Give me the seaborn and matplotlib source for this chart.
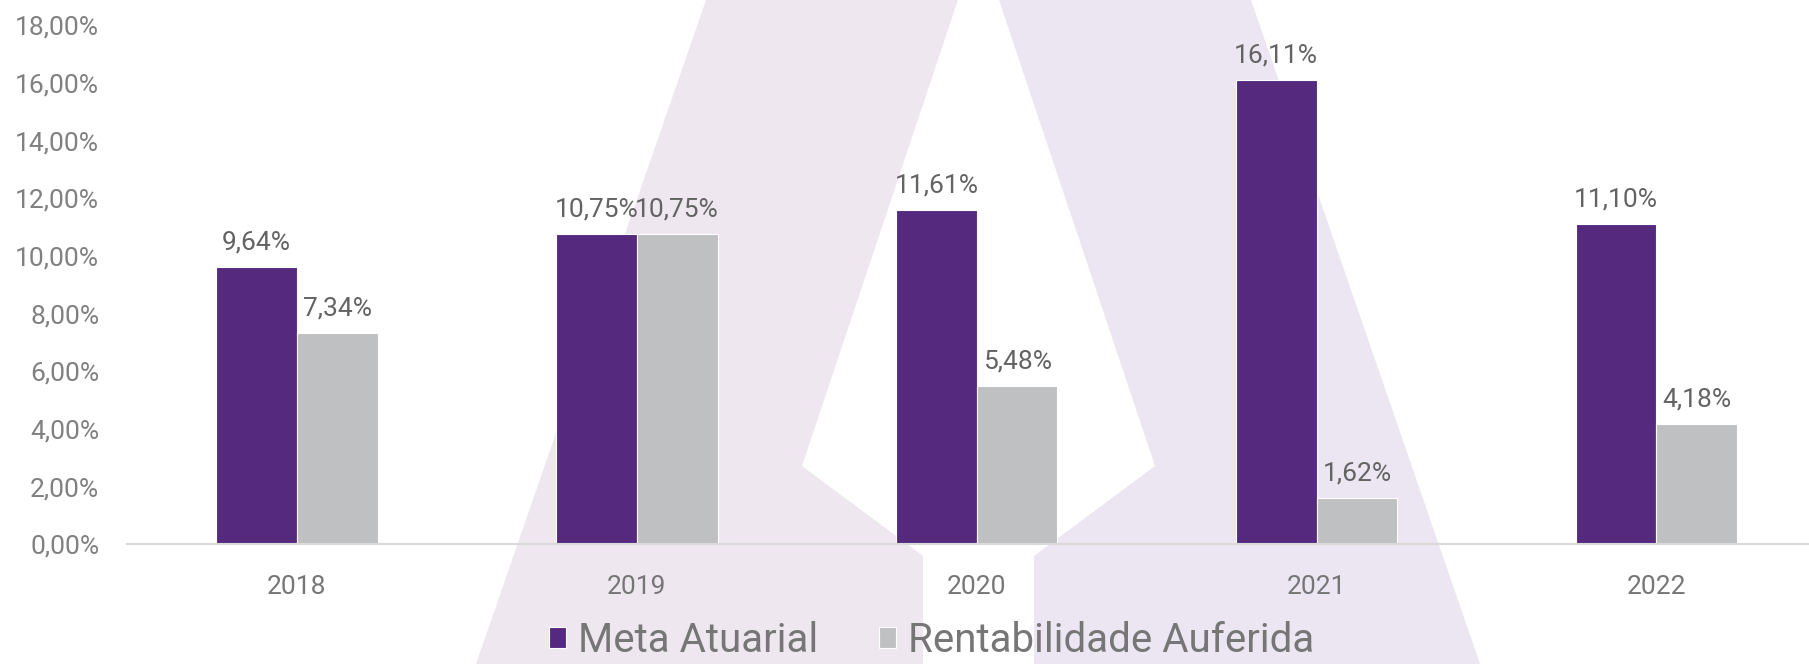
import matplotlib
matplotlib.use("Agg")
import matplotlib.pyplot as plt
import seaborn as sns
import pandas as pd
from matplotlib.patches import Polygon
from matplotlib.ticker import FuncFormatter

years = ["2018", "2019", "2020", "2021", "2022"]
meta_atuarial = [9.64, 10.75, 11.61, 16.11, 11.10]
rentabilidade = [7.34, 10.75, 5.48, 1.62, 4.18]
series_names = ["Meta Atuarial", "Rentabilidade Auferida"]
yticks = [0, 2, 4, 6, 8, 10, 12, 14, 16, 18]

df = pd.DataFrame({
    "Ano": years * 2,
    "Valor": meta_atuarial + rentabilidade,
    "Série": [series_names[0]] * len(years) + [series_names[1]] * len(years),
})

sns.set_theme(style="white")
plt.rcParams["font.family"] = ["Roboto", "DejaVu Sans"]
plt.rcParams["font.weight"] = "normal"

W, H = 1809, 664
fig = plt.figure(figsize=(W / 100, H / 100), dpi=100)
fig.patch.set_facecolor("white")

# background watermark (logo shape), in figure pixel coordinates
def fp(pts):
    return [(x / W, 1 - y / H) for x, y in pts]

left_piece = fp([(706, 0), (958, 0), (802, 466), (923, 556), (923, 664), (476, 664)])
right_piece = fp([(999, 0), (1251, 0), (1480, 664), (1034, 664), (1034, 556), (1155, 466)])
fig.add_artist(Polygon(left_piece, closed=True, transform=fig.transFigure,
                       facecolor="#efe7f0", edgecolor="none", zorder=0))
fig.add_artist(Polygon(right_piece, closed=True, transform=fig.transFigure,
                       facecolor="#ebe6f2", edgecolor="none", zorder=0))

ax = fig.add_axes([127 / W, 0.18, 0.930, 0.7817])
ax.set_facecolor("none")
ax.set_zorder(1)

sns.barplot(data=df, x="Ano", y="Valor", hue="Série", order=years,
            hue_order=series_names, palette=["#552a7e", "#bfc0c2"],
            width=0.475, saturation=1, ax=ax, legend=True,
            edgecolor="white", linewidth=0.8)

ax.set_xlim(-0.5, 4.45)
ax.set_ylim(0, 18)
ax.set_yticks(yticks)
ax.yaxis.set_major_formatter(FuncFormatter(lambda v, p: f"{v:.2f}".replace(".", ",") + "%"))
ax.set_xlabel("")
ax.set_ylabel("")
for s in ["top", "right", "left"]:
    ax.spines[s].set_visible(False)
ax.spines["bottom"].set_color("#d9d9d9")
ax.spines["bottom"].set_linewidth(1.5)
ax.tick_params(axis="y", length=0, pad=20, labelsize=19, labelcolor="#808080")
ax.tick_params(axis="x", length=0, pad=22, labelsize=19, labelcolor="#767676")

for cont in ax.containers:
    labels = [f"{b.get_height():.2f}".replace(".", ",") + "%" for b in cont]
    ax.bar_label(cont, labels=labels, padding=9, fontsize=19, color="#636363")

handles, labs = ax.get_legend_handles_labels()
ax.legend_.remove()
fig.legend(handles, labs, loc="lower center", bbox_to_anchor=(0.515, -0.048),
           ncol=2, frameon=False, fontsize=29, labelcolor="#767676",
           handlelength=0.42, handleheight=0.42, handletextpad=0.3,
           columnspacing=1.5)

fig.savefig("out.png", dpi=100, facecolor="white")
